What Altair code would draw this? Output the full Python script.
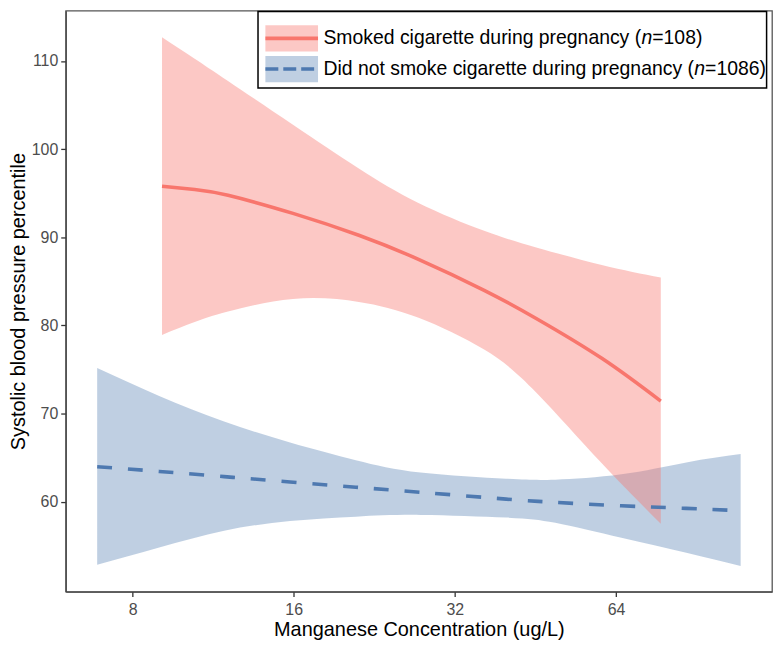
import altair as alt
import pandas as pd

# ---- data ----
smk_conc = [9.08, 10.45, 12.06, 15.95, 21.17, 27.3, 36.3, 45.4, 60.2, 77.6]
smk_fit = [95.79, 95.41, 94.75, 92.70, 90.22, 87.52, 83.98, 80.78, 76.26, 71.40]
smk_lo = [78.92, 80.37, 81.56, 82.99, 82.66, 80.89, 77.25, 72.39, 64.35, 57.50]
smk_hi = [112.69, 110.25, 107.72, 102.75, 97.79, 93.92, 90.72, 88.84, 86.85, 85.42]

non_conc = [6.87, 8.97, 11.86, 15.75, 20.9, 27.6, 39.9, 49.3, 65.5, 86.6, 109.4]
non_fit = [63.97, 63.43, 62.84, 62.24, 61.64, 61.07, 60.29, 59.92, 59.54, 59.24, 58.98]
non_lo = [52.86, 54.8, 56.7, 57.8, 58.3, 58.5, 58.2, 57.6, 55.9, 54.2, 52.7]
non_hi = [75.15, 72.0, 69.1, 66.7, 64.7, 63.3, 62.6, 62.5, 63.1, 64.45, 65.4]

x_ticks = [8, 16, 32, 64]
y_ticks = [60, 70, 80, 90, 100, 110]
x_title = "Manganese Concentration (ug/L)"
y_title = "Systolic blood pressure percentile"
leg1 = ["Smoked cigarette during pregnancy (", "n", "=108)"]
leg2 = ["Did not smoke cigarette during pregnancy (", "n", "=1086)"]

RED = "#F8766D"
BLUE = "#4E79B0"
FONT = "Liberation Sans"

df_s = pd.DataFrame({"conc": smk_conc, "fit": smk_fit, "lo": smk_lo, "hi": smk_hi})
df_n = pd.DataFrame({"conc": non_conc, "fit": non_fit, "lo": non_lo, "hi": non_hi})

W, H = 710, 584

xs = alt.Scale(type="log", base=2, domain=[6.0, 125.2], nice=False)
ys = alt.Scale(domain=[49.8, 115.7], nice=False, zero=False)
AXC = dict(grid=False, labelFont=FONT, titleFont=FONT, labelFontSize=16, titleFontSize=20,
           labelColor="#4D4D4D", titleColor="black", titleFontWeight="normal",
           tickColor="#333333", tickSize=5, tickWidth=1.3,
           domainColor="#444444", domainWidth=1.3)
xax = alt.Axis(values=x_ticks, format="d", title=x_title, labelPadding=5, titlePadding=2, **AXC)
yax = alt.Axis(values=y_ticks, title=y_title, labelPadding=3, titlePadding=3, **AXC)

INTERP = "natural"

def band(df, color, op):
    return alt.Chart(df).mark_area(interpolate=INTERP, color=color, opacity=op).encode(
        x=alt.X("conc:Q", scale=xs, axis=xax),
        y=alt.Y("lo:Q", scale=ys, axis=yax),
        y2="hi:Q",
    )

def line(df, color, dash=None):
    kw = dict(interpolate=INTERP, color=color, strokeWidth=3.6)
    if dash:
        kw["strokeDash"] = dash
    return alt.Chart(df).mark_line(**kw).encode(
        x=alt.X("conc:Q", scale=xs, axis=xax),
        y=alt.Y("fit:Q", scale=ys, axis=yax),
    )

# ---- manual legend (positions in pixels relative to plot area) ----
def px(xr):
    return (xr - 62) * W / 718

def py(yr):
    return (yr - 1) * H / 597

AW = {' ': 278, '(': 333, ')': 333, '=': 584, '0': 556, '1': 556, '6': 556, '8': 556,
      'D': 722, 'S': 667, 'a': 556, 'c': 500, 'd': 556, 'e': 556, 'g': 556, 'i': 222,
      'k': 500, 'm': 833, 'n': 556, 'o': 556, 'p': 556, 'r': 333, 's': 500, 't': 278,
      'u': 556, 'y': 500}

def tw(s, fs):
    return sum(AW.get(c, 556) for c in s) * fs / 1000

one = pd.DataFrame({"k": [0]})
FS = 19.5

layers_leg = []
layers_leg.append(alt.Chart(one).mark_rect(fill="white", stroke="black", strokeWidth=1.5).encode(
    x=alt.value(px(257.5)), x2=alt.value(px(774.5)), y=alt.value(py(1.8)), y2=alt.value(py(80.5))))

for (yc, col, op, dash, parts) in [(29.5, RED, 0.4, None, leg1), (61.0, BLUE, 0.36, [13, 5], leg2)]:
    layers_leg.append(alt.Chart(one).mark_rect(color=col, opacity=op).encode(
        x=alt.value(px(265)), x2=alt.value(px(318.5)),
        y=alt.value(py(yc - 13.5)), y2=alt.value(py(yc + 13.5))))
    rk = dict(color=col, strokeWidth=3.6)
    if dash:
        rk["strokeDash"] = dash
    layers_leg.append(alt.Chart(one).mark_rule(**rk).encode(
        x=alt.value(px(265)), x2=alt.value(px(318.5)), y=alt.value(py(yc))))
    x0 = px(324)
    for i, part in enumerate(parts):
        layers_leg.append(alt.Chart(one).mark_text(
            text=part, align="left", baseline="middle", font=FONT, fontSize=FS,
            fontStyle="italic" if i == 1 else "normal", color="black").encode(
            x=alt.value(x0), y=alt.value(py(yc))))
        x0 += tw(part, FS)

chart = alt.layer(
    band(df_n, BLUE, 0.36),
    band(df_s, RED, 0.4),
    line(df_n, BLUE, [15, 16]),
    line(df_s, RED),
    *layers_leg,
).properties(
    width=W, height=H,
    padding={"left": 0, "top": 1, "right": 1, "bottom": 0},
).configure_view(
    stroke="#555555", strokeWidth=1.3,
)

chart.save("out.html", embed_options={"renderer": "svg", "actions": False})
